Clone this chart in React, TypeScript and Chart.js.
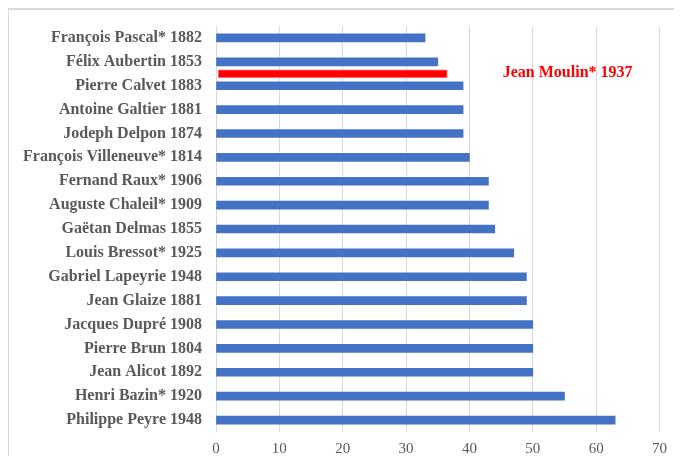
import React, { useEffect, useRef } from "react";
import { Chart, registerables } from "chart.js";

Chart.register(...registerables);

const categories = [
  "François Pascal* 1882",
  "Félix Aubertin 1853",
  "Pierre Calvet 1883",
  "Antoine Galtier 1881",
  "Jodeph Delpon 1874",
  "François Villeneuve* 1814",
  "Fernand Raux* 1906",
  "Auguste Chaleil* 1909",
  "Gaëtan Delmas 1855",
  "Louis Bressot* 1925",
  "Gabriel Lapeyrie 1948",
  "Jean Glaize 1881",
  "Jacques Dupré 1908",
  "Pierre Brun 1804",
  "Jean Alicot 1892",
  "Henri Bazin* 1920",
  "Philippe Peyre 1948",
];

const values = [33, 35, 39, 39, 39, 40, 43, 43, 44, 47, 49, 49, 50, 50, 50, 55, 63];

const highlightLabel = "Jean Moulin* 1937";
const highlightStart = 0.35;
const highlightEnd = 36.5;
const highlightAfter = 1; // red bar sits between category 1 and category 2
const highlightLabelX = 55.5;

const xMin = 0;
const xMax = 70;
const xStep = 10;

// Half-step slots: blank, cat0, blank, cat1, blank, ... cat16, blank
const slotLabels: string[] = [""];
const slotValues: (number | null)[] = [null];
const slotHighlight: any[] = [null];
categories.forEach((c, i) => {
  slotLabels.push(c, "");
  slotValues.push(values[i], null);
  slotHighlight.push(null, i === highlightAfter ? [highlightStart, highlightEnd] : null);
});
const highlightSlot = 2 * highlightAfter + 2;

const labelPlugin = {
  id: "highlightLabel",
  afterDatasetsDraw(chart: any) {
    const { ctx, scales } = chart;
    const x = scales.x.getPixelForValue(highlightLabelX);
    const y = scales.y.getPixelForValue(highlightSlot - 0.1);
    ctx.save();
    ctx.font = 'bold 16px "Liberation Serif", "Times New Roman", serif';
    ctx.fillStyle = "#FF0000";
    ctx.textAlign = "center";
    ctx.textBaseline = "middle";
    ctx.fillText(highlightLabel, x, y);
    ctx.restore();
  },
};

export default function App() {
  const ref = useRef<HTMLCanvasElement | null>(null);

  useEffect(() => {
    if (!ref.current) return;
    const chart = new Chart(ref.current, {
      type: "bar",
      data: {
        labels: slotLabels,
        datasets: [
          {
            data: slotValues,
            backgroundColor: "#4472C4",
            borderWidth: 0,
            barThickness: 8,
            grouped: false,
          },
          {
            data: slotHighlight,
            backgroundColor: "#FF0000",
            borderColor: "#FF6A6A",
            borderWidth: 1,
            borderSkipped: false,
            barThickness: 8,
            grouped: false,
          },
        ],
      },
      options: {
        indexAxis: "y",
        animation: false,
        responsive: false,
        layout: { padding: { top: 16, right: 21.5, bottom: 0, left: 0 } },
        plugins: {
          legend: { display: false },
          tooltip: { enabled: false },
        },
        scales: {
          x: {
            type: "linear",
            min: xMin,
            max: xMax,
            ticks: {
              stepSize: xStep,
              color: "#595959",
              padding: 8,
              font: { family: '"Liberation Serif", "Times New Roman", serif', size: 15 },
            },
            grid: { color: "#D9D9D9", lineWidth: 1, drawTicks: false },
            border: { display: false },
            afterFit(scale: any) {
              scale.height = 24;
              scale.paddingLeft = 0;
              scale.paddingRight = 0;
            },
          },
          y: {
            type: "category",
            offset: false,
            grid: { display: false, drawTicks: false },
            border: { display: false },
            ticks: {
              color: "#595959",
              padding: 14,
              autoSkip: false,
              font: {
                family: '"Liberation Serif", "Times New Roman", serif',
                size: 16,
                weight: "bold",
              },
            },
            afterFit(scale: any) {
              scale.width = 207;
              scale.paddingTop = 0;
              scale.paddingBottom = 0;
            },
          },
        },
      },
      plugins: [labelPlugin],
    });
    return () => chart.destroy();
  }, []);

  return (
    <div
      style={{
        marginLeft: -1,
        width: 672,
        borderTop: "2px solid #DADADA",
        borderLeft: "2px solid #DADADA",
      }}
    >
      <canvas ref={ref} width={672} height={446} style={{ display: "block" }} />
    </div>
  );
}
